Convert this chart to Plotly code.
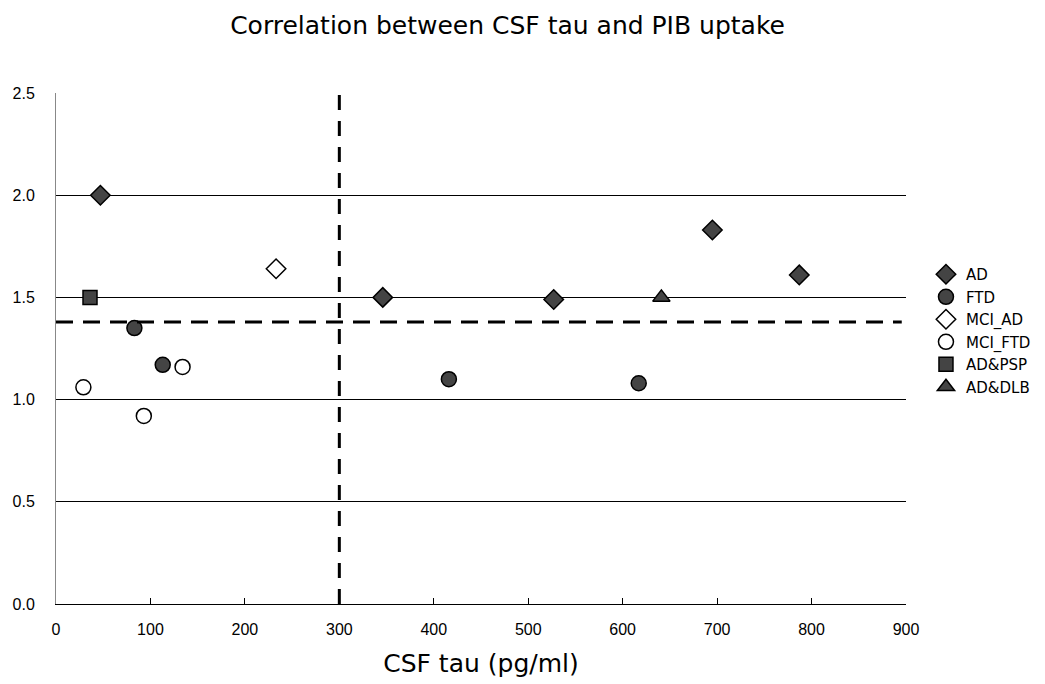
import plotly.graph_objects as go

# Data
ad_x = [47, 346, 527, 695, 787]
ad_y = [2.00, 1.50, 1.49, 1.83, 1.61]
ftd_x = [83, 113, 416, 617]
ftd_y = [1.35, 1.17, 1.10, 1.08]
mci_ad_x = [233]
mci_ad_y = [1.64]
mci_ftd_x = [29, 93, 134]
mci_ftd_y = [1.06, 0.92, 1.16]
ad_psp_x = [36]
ad_psp_y = [1.50]
ad_dlb_x = [641]
ad_dlb_y = [1.50]

tau_cutoff = 300
pib_cutoff = 1.38

x_ticks = [0, 100, 200, 300, 400, 500, 600, 700, 800, 900]
y_ticks = [0.0, 0.5, 1.0, 1.5, 2.0, 2.5]
y_tick_text = ["0.0", "0.5", "1.0", "1.5", "2.0", "2.5"]

FONT = "Liberation Sans"
TITLE_FONT = "DejaVu Sans"
TICK_FONT = "Liberation Sans"
LEGEND_FONT = "DejaVu Sans"
DARK = "#444444"

series = [
    ("AD", ad_x, ad_y, "diamond", DARK),
    ("FTD", ftd_x, ftd_y, "circle", DARK),
    ("MCI_AD", mci_ad_x, mci_ad_y, "diamond", "white"),
    ("MCI_FTD", mci_ftd_x, mci_ftd_y, "circle", "white"),
    ("AD&PSP", ad_psp_x, ad_psp_y, "square", DARK),
    ("AD&DLB", ad_dlb_x, ad_dlb_y, "triangle-up", DARK),
]

fig = go.Figure()
for name, xs, ys, sym, fill in series:
    fig.add_trace(go.Scatter(
        x=xs, y=ys, mode="markers", name=name,
        marker=dict(symbol=sym, size=15 if sym != "square" else 14, color=fill,
                    line=dict(color="black", width=1.5)),
        cliponaxis=False,
    ))

# Threshold lines
fig.add_shape(type="line", xref="x", yref="paper", x0=tau_cutoff, x1=tau_cutoff,
              y0=0, y1=1.01, line=dict(color="black", width=3, dash="15px,11px"))
fig.add_shape(type="line", xref="paper", yref="y", x0=0, x1=0.995,
              y0=pib_cutoff, y1=pib_cutoff, line=dict(color="black", width=3, dash="17px,10px"))

fig.update_layout(
    width=1037, height=676,
    paper_bgcolor="white", plot_bgcolor="white",
    margin=dict(l=48, r=139, t=85, b=80, autoexpand=False),
    title=dict(text="Correlation between CSF tau and PIB uptake", x=0.4817, xanchor="center",
               y=0.975, yanchor="middle", font=dict(family=TITLE_FONT, size=25, color="black")),
    font=dict(family=FONT, color="black"),
    showlegend=True,
    legend=dict(x=1.0235, y=0.677, xanchor="left", yanchor="top",
                font=dict(family=LEGEND_FONT, size=15, color="black"),
                itemwidth=30, tracegroupgap=0, bgcolor="rgba(0,0,0,0)"),
    xaxis=dict(range=[0, 900], tickvals=x_ticks, ticks="inside", ticklen=6,
               tickcolor="black", showgrid=False, zeroline=False, automargin=False,
               showline=True, linecolor="black", linewidth=1,
               tickfont=dict(family=TICK_FONT, size=16, color="black"),
               ticklabelstandoff=11,
               title=dict(text="CSF tau (pg/ml)", font=dict(family=TITLE_FONT, size=25, color="black"),
                          standoff=17)),
    yaxis=dict(range=[0, 2.5], tickvals=y_ticks, ticktext=y_tick_text, ticks="",
               showgrid=True, gridcolor="black", gridwidth=1, zeroline=False, automargin=False,
               showline=True, linecolor="#888888", linewidth=1,
               tickfont=dict(family=TICK_FONT, size=16, color="black"),
               ticklabelstandoff=17),
)

fig.write_html("out.html")
